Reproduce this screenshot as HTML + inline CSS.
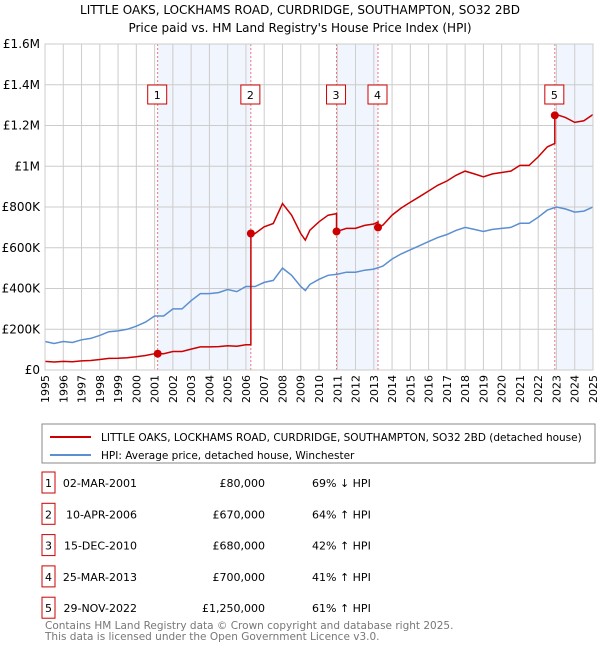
<!DOCTYPE html>
<html><head><meta charset="utf-8"><style>
body{margin:0;background:#fff;width:600px;height:650px;overflow:hidden;font-family:"DejaVu Sans","Liberation Sans",sans-serif}
</style></head><body>
<svg id="chart" width="600" height="650" xmlns="http://www.w3.org/2000/svg" font-family="DejaVu Sans, Liberation Sans, sans-serif">
<text x="300" y="14" text-anchor="middle" font-size="12">LITTLE OAKS, LOCKHAMS ROAD, CURDRIDGE, SOUTHAMPTON, SO32 2BD</text>
<text x="300" y="32" text-anchor="middle" font-size="12">Price paid vs. HM Land Registry's House Price Index (HPI)</text>
<g id="plot"></g>
<g>
<rect x="42" y="424" width="553" height="39" fill="#fff" stroke="#888"/>
<line x1="50" y1="437" x2="91" y2="437" stroke="#cc0000" stroke-width="2"/>
<text x="101" y="441" font-size="10.5">LITTLE OAKS, LOCKHAMS ROAD, CURDRIDGE, SOUTHAMPTON, SO32 2BD (detached house)</text>
<line x1="50" y1="455" x2="91" y2="455" stroke="#5b8fd1" stroke-width="2"/>
<text x="101" y="459" font-size="10.5">HPI: Average price, detached house, Winchester</text>
</g>
<g id="table"></g>
<text x="45" y="629" font-size="10.5" fill="#777">Contains HM Land Registry data © Crown copyright and database right 2025.</text>
<text x="45" y="640" font-size="10.5" fill="#777">This data is licensed under the Open Government Licence v3.0.</text>
</svg>
<script>
const hpiYears=[1995,1995.5,1996,1996.5,1997,1997.5,1998,1998.5,1999,1999.5,2000,2000.5,2001,2001.5,2002,2002.5,2003,2003.5,2004,2004.5,2005,2005.5,2006,2006.5,2007,2007.5,2008,2008.5,2009,2009.25,2009.5,2010,2010.5,2011,2011.5,2012,2012.5,2013,2013.5,2014,2014.5,2015,2015.5,2016,2016.5,2017,2017.5,2018,2018.5,2019,2019.5,2020,2020.5,2021,2021.5,2022,2022.5,2023,2023.5,2024,2024.5,2025];
const hpiValues=[140,130,140,135,148,155,170,188,192,200,215,235,265,265,300,300,340,375,375,380,395,385,410,410,430,440,500,465,410,390,420,445,465,470,480,480,490,495,510,545,570,590,610,630,650,665,685,700,690,680,690,695,700,720,720,750,785,800,790,775,780,800];
const saleLabels=["1","2","3","4","5"];
const saleDates=[2001.17,2006.27,2010.96,2013.23,2022.91];
const salePrices=[80,670,680,700,1250];
const saleDateText=["02-MAR-2001","10-APR-2006","15-DEC-2010","25-MAR-2013","29-NOV-2022"];
const salePriceText=["£80,000","£670,000","£680,000","£700,000","£1,250,000"];
const saleHpiText=["69% ↓ HPI","64% ↑ HPI","42% ↑ HPI","41% ↑ HPI","61% ↑ HPI"];
const yTicks=[0,200,400,600,800,1000,1200,1400,1600];
const yTickLabels=["£0","£200K","£400K","£600K","£800K","£1M","£1.2M","£1.4M","£1.6M"];
const xTicks=[1995,1996,1997,1998,1999,2000,2001,2002,2003,2004,2005,2006,2007,2008,2009,2010,2011,2012,2013,2014,2015,2016,2017,2018,2019,2020,2021,2022,2023,2024,2025];

const NS="http://www.w3.org/2000/svg";
const X0=45,X1=593,Y0=370,Y1=44;
const xs=t=>X0+(t-1995)/30*(X1-X0);
const ys=v=>Y0-v/1600*(Y0-Y1);
function mk(tag,at,parent){const e=document.createElementNS(NS,tag);for(const k in at)e.setAttribute(k,at[k]);parent.appendChild(e);return e;}
function hpiAt(t){for(let i=0;i<hpiYears.length-1;i++){if(t<=hpiYears[i+1]){const f=(t-hpiYears[i])/(hpiYears[i+1]-hpiYears[i]);return hpiValues[i]+f*(hpiValues[i+1]-hpiValues[i]);}}return hpiValues[hpiValues.length-1];}
const plot=document.getElementById('plot');
// shading
const bands=[[0,1],[2,3],[4,null]];
bands.forEach(b=>{const a=saleDates[b[0]],e=b[1]===null?2025:saleDates[b[1]];
const r=mk('rect',{x:xs(a),y:Y1,width:xs(e)-xs(a),height:Y0-Y1,fill:'#eef3fc',opacity:0.8},plot);

});
// grid
xTicks.forEach(t=>{const l=mk('line',{x1:xs(t),x2:xs(t),y1:Y1,y2:Y0,stroke:'#ccc'},plot);

const tx=mk('text',{x:0,y:0,'font-size':11,'text-anchor':'end',transform:`translate(${xs(t)+4},${Y0+5}) rotate(-90)`},plot);tx.textContent=t;
});
yTicks.forEach((v,i)=>{const l=mk('line',{x1:X0,x2:X1,y1:ys(v),y2:ys(v),stroke:'#ccc'},plot);

const tx=mk('text',{x:X0-5,y:ys(v)+4,'font-size':12,'text-anchor':'end'},plot);tx.textContent=yTickLabels[i];
});
// sale vlines
saleDates.forEach((d,i)=>{const l=mk('line',{x1:xs(d),x2:xs(d),y1:Y1,y2:Y0,stroke:'#e55','stroke-dasharray':'2,2','stroke-width':0.8},plot);

const g=mk('g',{},plot);
mk('rect',{x:xs(d)-10,y:85,width:19,height:19,fill:'#fff',stroke:'#c00'},g);
const t=mk('text',{x:xs(d)-0.5,y:99,'font-size':11,'text-anchor':'middle'},g);t.textContent=saleLabels[i];});
// hpi line
let hp=hpiYears.map((t,i)=>xs(t).toFixed(1)+','+ys(hpiValues[i]).toFixed(1)).join(' ');
const hl=mk('polyline',{points:hp,fill:'none',stroke:'#5b8fd1','stroke-width':1.5},plot);

// red line: indexed to hpi from each sale
let pts=[];
const seg=(t)=>{let k=0;for(let i=0;i<saleDates.length;i++)if(t>=saleDates[i])k=i;return k;};
const times=[...hpiYears,...saleDates].sort((a,b)=>a-b);
times.forEach(t=>{const k=seg(t);const v=hpiAt(t)*salePrices[k]/hpiAt(saleDates[k]);
const idx=saleDates.indexOf(t);
if(idx>0){const pk=idx-1;pts.push(xs(t)+','+ys(hpiAt(t)*salePrices[pk]/hpiAt(saleDates[pk])));}
pts.push(xs(t).toFixed(1)+','+ys(v).toFixed(1));});
const rl=mk('polyline',{points:pts.join(' '),fill:'none',stroke:'#cc0000','stroke-width':1.5},plot);

saleDates.forEach((d,i)=>{const c=mk('circle',{cx:xs(d),cy:ys(salePrices[i]),r:4,fill:'#cc0000'},plot);
});
mk('rect',{x:X0,y:Y1,width:X1-X0,height:Y0-Y1,fill:'none',stroke:'#ccc'},plot);
// table
const tb=document.getElementById('table');
saleLabels.forEach((s,i)=>{const y=483+i*31.3;
const g=mk('g',{},tb);
mk('rect',{x:42,y:y-11,width:13,height:21,fill:'#fff',stroke:'#c00'},g);
const a=mk('text',{x:48.5,y:y+4,'font-size':11,'text-anchor':'middle'},g);a.textContent=s;
const b=mk('text',{x:137,y:y+4,'font-size':11,'text-anchor':'end'},g);b.textContent=saleDateText[i];
const c=mk('text',{x:265,y:y+4,'font-size':11,'text-anchor':'end'},g);c.textContent=salePriceText[i];
const d=mk('text',{x:312,y:y+4,'font-size':11},g);d.textContent=saleHpiText[i];});
</script>
</body></html>
